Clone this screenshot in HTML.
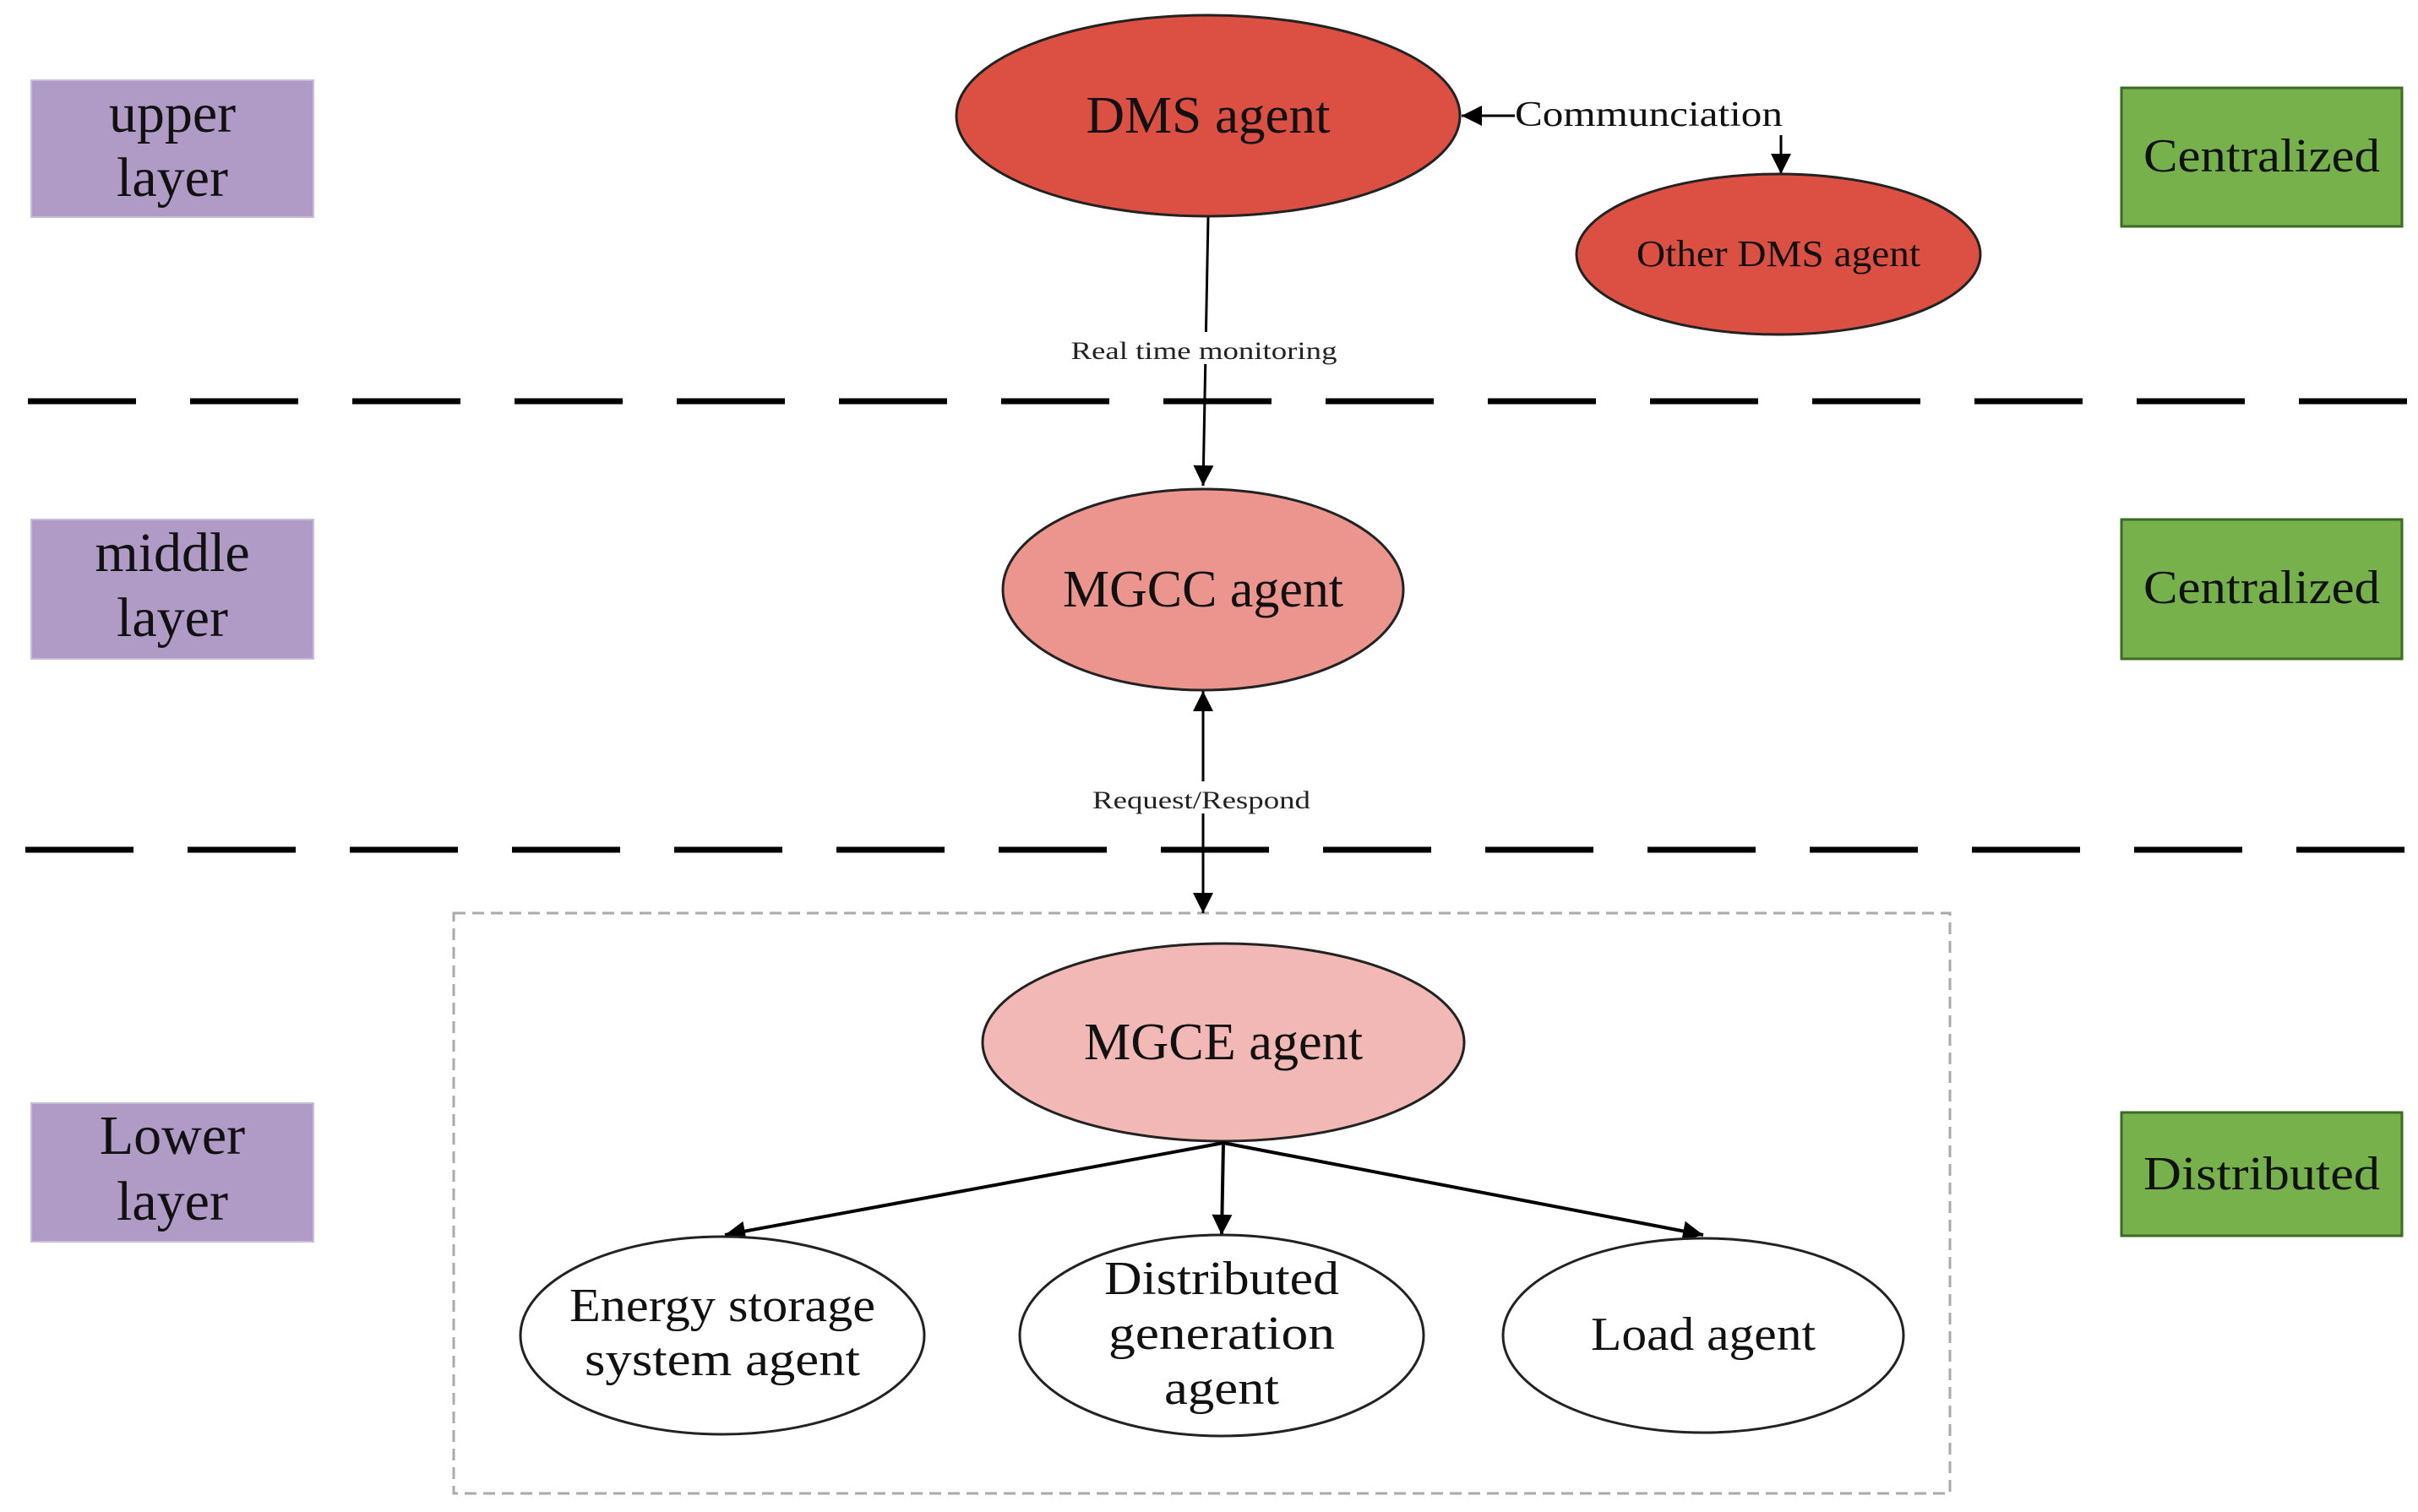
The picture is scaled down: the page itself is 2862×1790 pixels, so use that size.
<!DOCTYPE html>
<html><head><meta charset="utf-8"><style>html,body{margin:0;padding:0;background:#fff}svg{display:block}</style></head>
<body>
<svg width="2862" height="1790" viewBox="0 0 2862 1790" xmlns="http://www.w3.org/2000/svg" font-family="Liberation Serif, serif">
<defs>
<marker id="a" viewBox="0 0 10 10" refX="10" refY="5" markerWidth="10" markerHeight="10" markerUnits="userSpaceOnUse" orient="auto-start-reverse"><path d="M0,0 L10,5 L0,10 z" fill="#000"/></marker>
<marker id="b" viewBox="0 0 10 10" refX="10" refY="5" markerWidth="32" markerHeight="24" markerUnits="userSpaceOnUse" orient="auto-start-reverse"><path d="M0,0 L10,5 L0,10 z" fill="#000"/></marker>
</defs>
<!-- left boxes -->
<g fill="#b09ac6" stroke="#c8bcd8" stroke-width="2">
<rect x="37" y="95" width="334" height="162"/>
<rect x="37" y="615" width="334" height="165"/>
<rect x="37" y="1306" width="334" height="164"/>
</g>
<g font-size="66" text-anchor="middle" fill="#111">
<text x="204" y="156">upper</text><text x="204" y="232">layer</text>
<text x="204" y="676">middle</text><text x="204" y="753">layer</text>
<text x="204" y="1366">Lower</text><text x="204" y="1444">layer</text>
</g>
<!-- right boxes -->
<g fill="#76b14b" stroke="#3d6b26" stroke-width="3">
<rect x="2511" y="104" width="332" height="164"/>
<rect x="2511" y="615" width="332" height="165"/>
<rect x="2511" y="1317" width="332" height="146"/>
</g>
<g font-size="56" text-anchor="middle" fill="#111">
<text x="2677" y="203" textLength="280" lengthAdjust="spacingAndGlyphs">Centralized</text>
<text x="2677" y="714" textLength="280" lengthAdjust="spacingAndGlyphs">Centralized</text>
<text x="2677" y="1408" textLength="280" lengthAdjust="spacingAndGlyphs">Distributed</text>
</g>
<!-- dashed lines -->
<line x1="33" y1="475" x2="2862" y2="475" stroke="#000" stroke-width="7" stroke-dasharray="128,64"/>
<line x1="30" y1="1006" x2="2862" y2="1006" stroke="#000" stroke-width="7" stroke-dasharray="128,64"/>
<!-- dashed box -->
<rect x="537" y="1081" width="1771" height="687" fill="none" stroke="#aaa" stroke-width="3" stroke-dasharray="14,8"/>
<!-- connectors -->
<line x1="1430" y1="257" x2="1424" y2="575" stroke="#000" stroke-width="3" marker-end="url(#b)"/>
<line x1="1424" y1="1081" x2="1424" y2="818" stroke="#000" stroke-width="3" marker-start="url(#b)" marker-end="url(#b)"/>
<rect x="1265" y="393" width="320" height="38" fill="#fff"/>
<text x="1425" y="425" font-size="30" text-anchor="middle" fill="#222" textLength="315" lengthAdjust="spacingAndGlyphs">Real time monitoring</text>
<rect x="1290" y="925" width="265" height="38" fill="#fff"/>
<text x="1422" y="957" font-size="30" text-anchor="middle" fill="#222" textLength="258" lengthAdjust="spacingAndGlyphs">Request/Respond</text>
<line x1="1793" y1="137" x2="1730" y2="137" stroke="#000" stroke-width="3" marker-end="url(#b)"/>
<line x1="2108" y1="160" x2="2108" y2="206" stroke="#000" stroke-width="3" marker-end="url(#b)"/>
<text x="1793" y="149" font-size="42" fill="#111" textLength="317" lengthAdjust="spacingAndGlyphs">Communciation</text>
<!-- ellipses -->
<ellipse cx="1430" cy="137" rx="298" ry="119" fill="#dc4f43" stroke="#222" stroke-width="3"/>
<text x="1430" y="157" font-size="62" text-anchor="middle" fill="#111" textLength="289" lengthAdjust="spacingAndGlyphs">DMS agent</text>
<ellipse cx="2105" cy="301" rx="239" ry="95" fill="#dc4f43" stroke="#222" stroke-width="3"/>
<text x="2105" y="315" font-size="44" text-anchor="middle" fill="#111" textLength="336" lengthAdjust="spacingAndGlyphs">Other DMS agent</text>
<ellipse cx="1424" cy="698" rx="237" ry="119" fill="#ec958f" stroke="#222" stroke-width="3"/>
<text x="1424" y="718" font-size="62" text-anchor="middle" fill="#111" textLength="332" lengthAdjust="spacingAndGlyphs">MGCC agent</text>
<ellipse cx="1448" cy="1234" rx="285" ry="117" fill="#f2b8b5" stroke="#222" stroke-width="3"/>
<text x="1448" y="1254" font-size="62" text-anchor="middle" fill="#111" textLength="330" lengthAdjust="spacingAndGlyphs">MGCE agent</text>
<line x1="1448" y1="1353" x2="858" y2="1462" stroke="#000" stroke-width="4" marker-end="url(#b)"/>
<line x1="1448" y1="1353" x2="1446" y2="1462" stroke="#000" stroke-width="4" marker-end="url(#b)"/>
<line x1="1448" y1="1353" x2="2016" y2="1462" stroke="#000" stroke-width="4" marker-end="url(#b)"/>
<g fill="#fff" stroke="#222" stroke-width="3">
<ellipse cx="855" cy="1581" rx="239" ry="117"/>
<ellipse cx="1446" cy="1581" rx="239" ry="119"/>
<ellipse cx="2016" cy="1581" rx="237" ry="115"/>
</g>
<g font-size="56" text-anchor="middle" fill="#111">
<text x="855" y="1564" textLength="362" lengthAdjust="spacingAndGlyphs">Energy storage</text>
<text x="855" y="1628" textLength="326" lengthAdjust="spacingAndGlyphs">system agent</text>
<text x="1446" y="1532" textLength="278" lengthAdjust="spacingAndGlyphs">Distributed</text>
<text x="1446" y="1597" textLength="268" lengthAdjust="spacingAndGlyphs">generation</text>
<text x="1446" y="1662" textLength="136" lengthAdjust="spacingAndGlyphs">agent</text>
<text x="2016" y="1598" textLength="266" lengthAdjust="spacingAndGlyphs">Load agent</text>
</g>
</svg>
</body></html>
